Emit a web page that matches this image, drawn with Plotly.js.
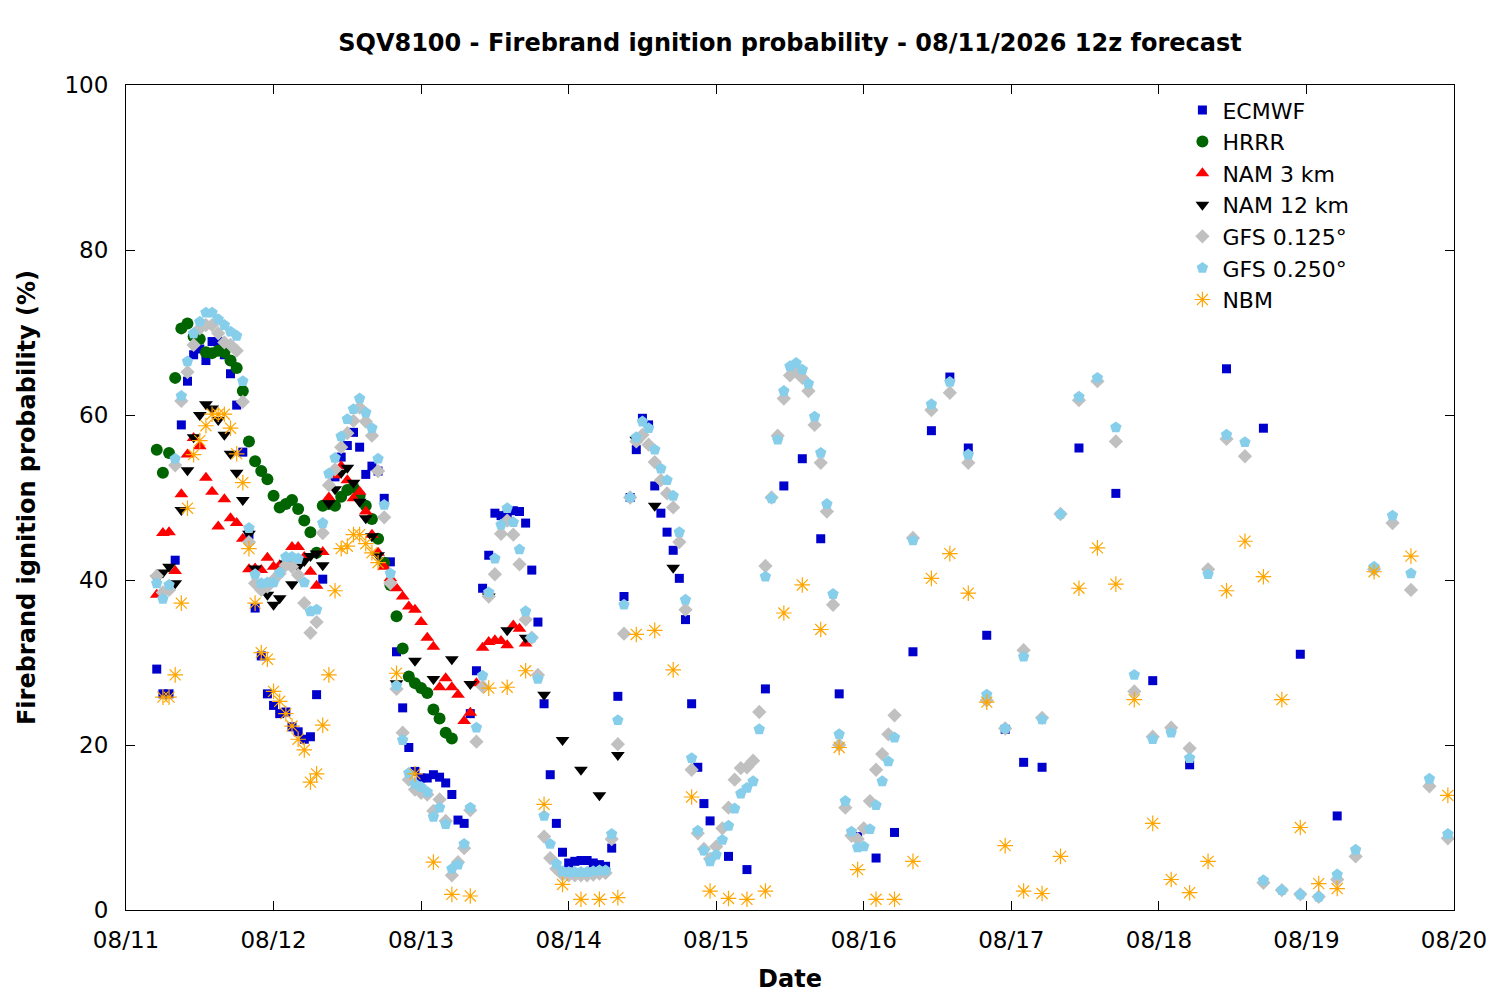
<!DOCTYPE html>
<html>
<head>
<meta charset="utf-8">
<script src="https://cdn.plot.ly/plotly-3.0.1.min.js"></script>
<style>
  html, body { margin: 0; padding: 0; background: #fff; }
  #chart { width: 1500px; height: 1000px; }
</style>
</head>
<body>
<div id="chart"></div>
<script>
// valid times, hours after 08/11 00 local
function hours(start, end, step) {
  var out = [];
  for (var h = start; h <= end; h += step) out.push(h);
  return out;
}

var dayLabels = ['08/11', '08/12', '08/13', '08/14', '08/15', '08/16', '08/17', '08/18', '08/19', '08/20'];
var dayTicks = [0, 24, 48, 72, 96, 120, 144, 168, 192, 216];

var ecmwfHours = hours(5, 95, 1).concat(hours(98, 149, 3), hours(155, 197, 6));
var ecmwf = [
  29.2, 26.2, 26.2, 42.4, 58.8, 64.1, 67.3, 68, 66.6, 68.9,
  68.9, 67.3, 65, 61.2, 55.5, 45.5, 36.6, 30.8, 26.2, 24.8,
  23.8, 24, 22.2, 21.6, 20.7, 21, 26.1, 40.1, 49.3, 52.5,
  54.9, 56.3, 57.9, 56.1, 52.8, 53.8, 53.2, 49.9, 42.2, 31.3,
  24.5, 19.7, 16.8, 16, 16, 16.4, 16.1, 15.4, 14, 10.9,
  10.5, 23.8, 29, 39, 43, 48.1, 47.8, 48, 48.4, 48.3,
  46.9, 41.2, 34.9, 25, 16.4, 10.5, 7, 5.7, 5.9, 6,
  6, 5.7, 5.5, 5.3, 7.5, 25.9, 38, 50, 55.8, 59.6,
  58.8, 51.4, 48.1, 45.8, 43.6, 40.2, 35.2, 25, 17.3, 12.9, 10.8,
  // 3-hourly
  6.5, 4.9, 26.8, 51.4, 54.7, 45, 26.2, 8.9, 6.3, 9.4,
  31.3, 58.1, 64.6, 56, 33.3, 21.9, 17.9, 17.3,
  // 6-hourly
  56, 50.5, 27.8, 17.6, 65.6, 58.4, 31, 11.4
];

var hrrrHours = hours(5, 53, 1);
var hrrr = [
  55.8, 53, 55.4, 64.5, 70.5, 71.1, 69.5, 69.2, 67.6, 67.5,
  67.8, 67.6, 66.6, 65.7, 62.9, 56.8, 54.4, 53.2, 52.2, 50.2,
  48.8, 49.2, 49.7, 48.6, 47.2, 45.8, 43.3, 49, 49.2, 49,
  50.1, 50.9, 51.2, 50.2, 49, 47.4, 45, 42.1, 39.4, 35.6,
  31.7, 28.3, 27.5, 26.9, 26.3, 24.3, 23.2, 21.5, 20.8
];

var nam3Hours = hours(5, 65, 1);
var nam3 = [
  38.2, 45.7, 45.8, 41.1, 50.4, 55.2, 57.2, 56.2, 52.4, 50.7,
  46.5, 49.8, 47.5, 46.9, 45, 41.3, 41.4, 41.2, 42.7, 41.6,
  41.8, 42.2, 44, 44, 42.8, 41, 39.3, 43.4, 50, 52.7,
  53.8, 52.1, 49.9, 50.7, 48.3, 45.5, 43.3, 41.6, 40.2, 39,
  38, 36.8, 36.4, 34.9, 33, 31.9, 27, 28.1, 27, 26.1,
  22.9, 23.9, 27.5, 31.8, 32.5, 32.7, 32.6, 32.1, 34.5, 34.1, 32.3
];

var nam12Hours = hours(5, 41, 1).concat(hours(44, 89, 3));
var nam12 = [
  40.2, 40.9, 41.6, 39.6, 48.5, 53.3, 57.3, 60, 61.3, 60.8,
  59.4, 57.6, 55.3, 53, 49.7, 45.6, 41.4, 39.5, 38.2, 37,
  37.8, 42, 39.5, 41.6, 42.3, 42.9, 43.2, 41.8, 49.3, 51,
  53, 53.6, 51.8, 49.5, 47.5, 45.3, 43,
  // 3-hourly
  27.5, 30.2, 28, 30.4, 27.4, 38, 33.9, 33, 26.1, 20.6,
  17, 13.9, 18.8, 57, 49, 41.5
];

var gfsHours = hours(5, 125, 1).concat(hours(128, 215, 3));
var gfs125 = [
  40.5, 38.5, 38.8, 53.9, 61.7, 65.2, 68.5, 70.5, 70.9, 70.9,
  69.9, 68.8, 68.5, 67.8, 61.6, 44.6, 39.6, 38.8, 39.2, 40,
  40.8, 41.8, 41.6, 40.6, 37.2, 33.6, 34.9, 45.7, 51.5, 53.4,
  56.1, 57.8, 59.3, 60.9, 59.2, 57.5, 53.2, 47.6, 39.6, 26.8,
  21.5, 15.8, 14.6, 14.2, 14, 12, 13.4, 10.8, 4.2, 5.8,
  7.5, 12.1, 20.4, 27.1, 38, 40.7, 45.6, 47.2, 45.5, 41.9,
  35.2, 33, 28.5, 8.9, 6.3, 5, 4.3, 4.2, 4.2, 4.2,
  4.2, 4.3, 4.4, 4.5, 8.6, 20.1, 33.5, 50, 56.8, 57.6,
  56.4, 54.3, 52.1, 50.5, 48.8, 44.6, 36.4, 17, 9.3, 7.4,
  6.2, 7.7, 9.9, 12.4, 15.8, 17.2, 17.3, 18.1, 24, 41.7,
  50, 57.5, 62, 64.8, 65.3, 64.5, 62.9, 58.8, 54.2, 48.3,
  37, 20, 12.4, 9, 8.6, 9.9, 13.2, 17, 18.9, 21.3, 23.6,
  // 3-hourly
  45.1, 60.6, 62.7, 54.2, 25.4, 22, 31.5, 23.3, 48, 61.8,
  64.1, 56.8, 26.5, 21, 22.1, 19.6, 41.3, 57.1, 55, 3.3,
  2.4, 1.9, 1.6, 3.7, 6.5, 41.3, 46.9, 38.8, 15, 8.7
];
var gfs250 = [
  39.6, 37.7, 39.4, 54.7, 62.3, 66.5, 69.9, 71.3, 72.4, 72.4,
  71.6, 70.9, 70.1, 69.6, 64.1, 46.3, 40.7, 39.6, 39.7, 39.7,
  40.9, 42.8, 42.8, 42.6, 39.7, 36.2, 36.4, 46.9, 52.9, 54.8,
  57.4, 59.5, 60.7, 62, 60.3, 58.4, 54.7, 49.1, 40.8, 27.2,
  20.6, 16.6, 15.3, 14.9, 14.3, 11.3, 12.4, 10.4, 5, 5.5,
  8, 12.4, 22.1, 28.4, 38.5, 42.6, 46.7, 48.7, 47, 43.7,
  36.2, 33, 28, 11.4, 8, 5.6, 4.7, 4.6, 4.6, 4.6,
  4.6, 4.7, 4.8, 4.8, 9.2, 23, 37, 50, 57.3, 59.2,
  58.4, 55.8, 53.5, 52.1, 50.2, 45.8, 37.6, 18.4, 9.6, 7.2,
  5.9, 6.7, 8.5, 10.2, 12.3, 14.1, 14.8, 15.6, 21.9, 40.4,
  49.9, 57, 62.9, 65.9, 66.3, 65.5, 63.8, 59.8, 55.4, 49.2,
  38.3, 21.3, 13.2, 9.5, 7.6, 7.7, 9.8, 12.7, 15.6, 18, 20.9,
  // 3-hourly
  44.8, 61.3, 64, 55.2, 26.1, 22, 30.7, 23.1, 48, 62.2,
  64.5, 58.5, 28.5, 20.7, 21.5, 18.4, 40.7, 57.6, 56.7, 3.6,
  2.4, 1.9, 1.6, 4.3, 7.3, 41.6, 47.8, 40.8, 15.9, 9.2
];

var nbmHours = hours(6, 41, 1).concat(hours(44, 197, 3), hours(203, 215, 6));
var nbm = [
  25.8, 25.8, 28.5, 37.2, 48.7, 55.2, 56.9, 58.7, 60.1, 60.1,
  60.1, 58.4, 55.3, 51.8, 43.8, 37.2, 31.2, 30.4, 26.5, 25.3,
  23.8, 22.3, 20.7, 19.4, 15.5, 16.5, 22.4, 28.5, 38.7, 43.8,
  44.1, 45.5, 45.5, 44.4, 43.3, 42.1,
  // 3-hourly
  28.7, 16.5, 5.8, 1.9, 1.7, 26.9, 27, 29, 12.8, 3.1,
  1.3, 1.3, 1.5, 33.4, 33.9, 29.1, 13.7, 2.3, 1.4, 1.3,
  2.3, 36, 39.4, 34, 19.7, 4.9, 1.3, 1.3, 5.9, 40.2,
  43.2, 38.4, 25.2, 7.8, 2.3, 2, 6.5, 39, 43.9, 39.5,
  25.5, 10.5, 3.7, 2.1, 5.9, 38.7, 44.7, 40.4, 25.5, 10,
  3.2, 2.6,
  // 6-hourly
  41, 42.9, 13.9
];

function series(name, x, y, marker) {
  return { type: 'scatter', mode: 'markers', name: name, x: x, y: y, marker: marker,
           hoverinfo: 'x+y+name' };
}

var data = [
  series('ECMWF', ecmwfHours, ecmwf, { symbol: 'square', size: 9, color: '#0000cc' }),
  series('HRRR', hrrrHours, hrrr, { symbol: 'circle', size: 12, color: '#006400' }),
  series('NAM 3 km', nam3Hours, nam3, { symbol: 'triangle-up', size: 12, color: '#ff0000' }),
  series('NAM 12 km', nam12Hours, nam12, { symbol: 'triangle-down', size: 12, color: '#000000' }),
  series('GFS 0.125°', gfsHours, gfs125, { symbol: 'diamond', size: 11, color: '#c0c0c0' }),
  series('GFS 0.250°', gfsHours, gfs250, { symbol: 'pentagon', size: 12, color: '#87ceeb' }),
  series('NBM', nbmHours, nbm, { symbol: 'asterisk-open', size: 13, color: '#ffa500',
                                 line: { color: '#ffa500', width: 1.2 } })
];

var font = 'DejaVu Sans, Liberation Sans, sans-serif';

var layout = {
  width: 1500,
  height: 1000,
  margin: { l: 126, r: 46, t: 85, b: 90 },
  paper_bgcolor: '#ffffff',
  plot_bgcolor: '#ffffff',
  font: { family: font, size: 23, color: '#000' },
  title: {
    text: '<b>SQV8100 - Firebrand ignition probability - 08/11/2026 12z forecast</b>',
    font: { family: font, size: 24, color: '#000' },
    xref: 'paper', x: 0.5, xanchor: 'center',
    yref: 'container', y: 0.957, yanchor: 'middle'
  },
  xaxis: {
    range: [0, 216],
    tickvals: dayTicks,
    ticktext: dayLabels,
    ticks: 'inside', ticklen: 9, tickcolor: '#000',
    showline: true, linecolor: '#000', linewidth: 1, mirror: 'ticks',
    showgrid: false, zeroline: false,
    ticklabelstandoff: 9,
    tickfont: { family: font, size: 23 },
    title: { text: '<b>Date</b>', font: { family: font, size: 24 }, standoff: 18 }
  },
  yaxis: {
    range: [0, 100],
    tickvals: [0, 20, 40, 60, 80, 100],
    ticks: 'inside', ticklen: 9, tickcolor: '#000',
    showline: true, linecolor: '#000', linewidth: 1, mirror: 'ticks',
    showgrid: false, zeroline: false,
    ticklabelstandoff: 12,
    tickfont: { family: font, size: 23 },
    title: { text: '<b>Firebrand ignition probability (%)</b>', font: { family: font, size: 24 }, standoff: 22 }
  },
  legend: {
    x: 0.925, xanchor: 'right', y: 0.995, yanchor: 'top',
    bgcolor: 'rgba(0,0,0,0)',
    font: { family: font, size: 22 },
    tracegroupgap: 0
  },
  showlegend: true
};

Plotly.newPlot('chart', data, layout, { displayModeBar: false, staticPlot: true });
</script>
</body>
</html>
